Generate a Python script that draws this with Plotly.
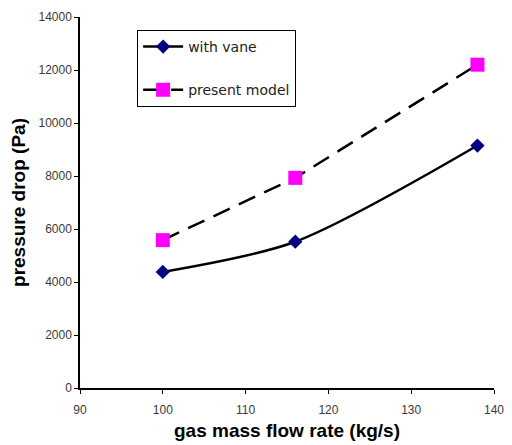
import plotly.graph_objects as go

flow = [100, 116, 138]
with_vane = [4380, 5520, 9150]
present_model = [5580, 7930, 12200]

fig = go.Figure()
fig.add_trace(go.Scatter(
    x=flow, y=with_vane, name="with vane", mode="lines+markers",
    line=dict(color="black", width=2.5, shape="spline", smoothing=0.8),
    marker=dict(symbol="diamond", size=11, color="#000080"),
    legendgroup="a"))
fig.add_trace(go.Scatter(
    x=flow, y=present_model, name="present model", mode="lines+markers",
    line=dict(color="black", width=2.5, dash="18px,10px"),
    marker=dict(symbol="square", size=14, color="#FF00FF"),
    legendgroup="b"))

tickfont = dict(family="Liberation Sans, Arial", size=12, color="#3a3a3a")
titlefont = dict(family="Liberation Sans, Arial", size=19, color="black")
fig.update_layout(
    width=512, height=445,
    margin=dict(l=80, r=18, t=17, b=57),
    paper_bgcolor="white", plot_bgcolor="white",
    showlegend=True,
    legend=dict(x=0.138, y=0.965, xanchor="left", yanchor="top",
                bordercolor="black", borderwidth=1, bgcolor="white",
                font=dict(family="DejaVu Sans", size=14, color="#222222"),
                tracegroupgap=22, itemwidth=40),
    xaxis=dict(range=[90, 140], tickvals=[90, 100, 110, 120, 130, 140],
               showline=True, linecolor="black", linewidth=1.5,
               ticks="outside", ticklen=4, tickcolor="black", showgrid=False,
               zeroline=False, tickfont=tickfont, ticklabelstandoff=6,
               automargin=False,
               title=dict(text="<b>gas mass flow rate (kg/s)</b>",
                          font=titlefont, standoff=8)),
    yaxis=dict(range=[0, 14000], dtick=2000, tickformat="d",
               showline=True, linecolor="black", linewidth=1.5,
               ticks="outside", ticklen=4, tickcolor="black", showgrid=False,
               zeroline=False, tickfont=tickfont, automargin=False,
               title=dict(text="<b>pressure drop (Pa)</b>",
                          font=titlefont, standoff=8)),
)
fig.write_html("out.html")
